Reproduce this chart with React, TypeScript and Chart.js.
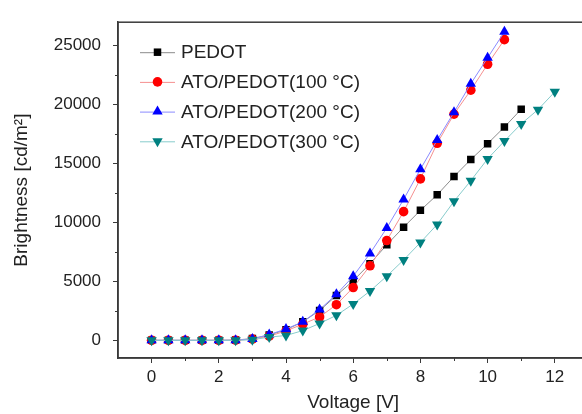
import React, { useEffect, useRef } from "react";
import { Chart, registerables } from "chart.js";

Chart.register(...registerables);

const voltage = [0, 0.5, 1, 1.5, 2, 2.5, 3, 3.5, 4, 4.5, 5, 5.5, 6, 6.5, 7, 7.5, 8, 8.5, 9, 9.5, 10, 10.5, 11, 11.5, 12];

const pedot = [0, 0, 0, 0, 0, 20, 150, 450, 900, 1570, 2530, 3800, 5060, 6500, 8110, 9600, 11030, 12350, 13900, 15345, 16690, 18100, 19610];
const ato100 = [0, 0, 0, 0, 0, 10, 100, 350, 800, 1375, 1980, 3025, 4480, 6325, 8470, 10920, 13700, 16720, 19200, 21230, 23430, 25520];
const ato200 = [0, 0, 0, 0, 0, 10, 120, 490, 960, 1570, 2610, 3900, 5440, 7370, 9540, 11960, 14520, 17000, 19360, 21780, 23980, 26180];
const ato300 = [0, 0, 0, 0, 0, 0, 50, 275, 410, 825, 1430, 2120, 3080, 4180, 5445, 6820, 8300, 9840, 11800, 13550, 15400, 16910, 18370, 19580, 21090];

const seriesLabels = ["PEDOT", "ATO/PEDOT(100 °C)", "ATO/PEDOT(200 °C)", "ATO/PEDOT(300 °C)"];

const xTicks = [0, 2, 4, 6, 8, 10, 12];
const xMinorTicks = [1, 3, 5, 7, 9, 11];
const yTicks = [0, 5000, 10000, 15000, 20000, 25000];
const yMinorTicks = [2500, 7500, 12500, 17500, 22500];

const AXIS = "#3a3a3a";
const TEXT = "#222";
const FONT = "'Liberation Sans', Arial, sans-serif";

const toPts = (ys: number[]) => ys.map((y, i) => ({ x: voltage[i], y }));

const styles = [
  { marker: "#000000", line: "#8c8c8c", shape: "rect", radius: 5.3, rotation: 0 },
  { marker: "#ff0000", line: "#f59090", shape: "circle", radius: 4.8, rotation: 0 },
  { marker: "#0000ff", line: "#8a8aff", shape: "triangle", radius: 6, rotation: 0 },
  { marker: "#008080", line: "#88cccc", shape: "triangle", radius: 6, rotation: 180 },
];

function drawMarker(ctx: CanvasRenderingContext2D, s: any, x: number, y: number) {
  ctx.fillStyle = s.marker;
  ctx.beginPath();
  if (s.shape === "rect") {
    const h = s.radius * Math.SQRT1_2;
    ctx.rect(x - h, y - h, 2 * h, 2 * h);
  } else if (s.shape === "circle") {
    ctx.arc(x, y, s.radius, 0, Math.PI * 2);
  } else {
    const dir = s.rotation === 180 ? -1 : 1;
    const r = s.radius;
    ctx.moveTo(x, y - dir * r);
    ctx.lineTo(x - r * Math.sin(Math.PI / 3), y + dir * r * 0.5);
    ctx.lineTo(x + r * Math.sin(Math.PI / 3), y + dir * r * 0.5);
    ctx.closePath();
  }
  ctx.fill();
}

const framePlugin = {
  id: "frameAndLegend",
  afterDraw(chart: any) {
    const { ctx, chartArea: a, scales } = chart;
    ctx.save();
    ctx.strokeStyle = AXIS;
    ctx.lineWidth = 1.5;
    ctx.strokeRect(a.left, a.top, a.right - a.left, a.bottom - a.top);
    ctx.lineWidth = 1;
    ctx.beginPath();
    for (const v of xMinorTicks) {
      const px = Math.round(scales.x.getPixelForValue(v)) + 0.5;
      ctx.moveTo(px, a.bottom);
      ctx.lineTo(px, a.bottom + 3);
    }
    for (const v of yMinorTicks) {
      const py = Math.round(scales.y.getPixelForValue(v)) + 0.5;
      ctx.moveTo(a.left, py);
      ctx.lineTo(a.left - 3, py);
    }
    ctx.stroke();

    // legend
    const x0 = a.left + 22;
    const x1 = a.left + 57;
    const xm = (x0 + x1) / 2;
    ctx.font = `19px ${FONT}`;
    ctx.textBaseline = "middle";
    ctx.textAlign = "left";
    seriesLabels.forEach((label, i) => {
      const s = styles[i];
      const y = a.top + 30 + i * 29.7;
      ctx.strokeStyle = s.line;
      ctx.lineWidth = 1;
      ctx.beginPath();
      ctx.moveTo(x0, y + 0.5);
      ctx.lineTo(x1, y + 0.5);
      ctx.stroke();
      drawMarker(ctx, s, xm, y);
      ctx.fillStyle = TEXT;
      ctx.fillText(label, x1 + 6, y + 1);
    });
    ctx.restore();
  },
};

export default function App() {
  const ref = useRef<HTMLCanvasElement>(null);
  useEffect(() => {
    if (!ref.current) return;
    const data = [pedot, ato100, ato200, ato300];
    const chart = new Chart(ref.current, {
      type: "line",
      data: {
        datasets: data.map((ys, i) => ({
          label: seriesLabels[i],
          data: toPts(ys),
          borderColor: styles[i].line,
          borderWidth: 1,
          backgroundColor: styles[i].marker,
          pointBackgroundColor: styles[i].marker,
          pointBorderColor: styles[i].marker,
          pointBorderWidth: 0,
          pointStyle: styles[i].shape as any,
          pointRotation: styles[i].rotation,
          pointRadius: styles[i].radius,
          tension: 0,
          order: 4 - i,
        })),
      },
      options: {
        responsive: false,
        animation: false,
        events: [],
        layout: { padding: { top: 13, right: 11.6, left: 0, bottom: 0 } },
        plugins: { legend: { display: false }, tooltip: { enabled: false } },
        scales: {
          x: {
            type: "linear",
            min: -1,
            max: 13,
            afterBuildTicks: (s: any) => {
              s.ticks = xTicks.map((v) => ({ value: v }));
            },
            afterFit: (s: any) => {
              s.height = 56;
            },
            grid: { display: true, drawOnChartArea: false, tickLength: 5, color: AXIS, tickColor: AXIS, tickWidth: 1 },
            border: { display: true, color: AXIS, width: 1.5 },
            ticks: { color: TEXT, font: { family: FONT, size: 17 }, padding: 4, maxRotation: 0, autoSkip: false, callback: (v: any) => String(v) },
            title: { display: true, text: "Voltage [V]", color: TEXT, font: { family: FONT, size: 19 }, padding: { top: 0, bottom: 0 } },
          },
          y: {
            type: "linear",
            min: -1500,
            max: 27000,
            afterBuildTicks: (s: any) => {
              s.ticks = yTicks.map((v) => ({ value: v }));
            },
            afterFit: (s: any) => {
              s.width = 118;
            },
            grid: { display: true, drawOnChartArea: false, tickLength: 5, color: AXIS, tickColor: AXIS, tickWidth: 1 },
            border: { display: true, color: AXIS, width: 1.5 },
            ticks: { color: TEXT, font: { family: FONT, size: 17 }, padding: 12, autoSkip: false, callback: (v: any) => String(v) },
            title: { display: true, text: "Brightness [cd/m²]", color: TEXT, font: { family: FONT, size: 19 }, padding: { top: 10, bottom: 0 } },
          },
        },
      },
      plugins: [framePlugin],
    });
    return () => chart.destroy();
  }, []);
  return (
    <div style={{ position: "fixed", left: 0, top: 0, width: 582, height: 414, overflow: "hidden", background: "#fff" }}>
      <canvas ref={ref} width={600} height={414} style={{ display: "block", width: 600, height: 414 }} />
    </div>
  );
}
